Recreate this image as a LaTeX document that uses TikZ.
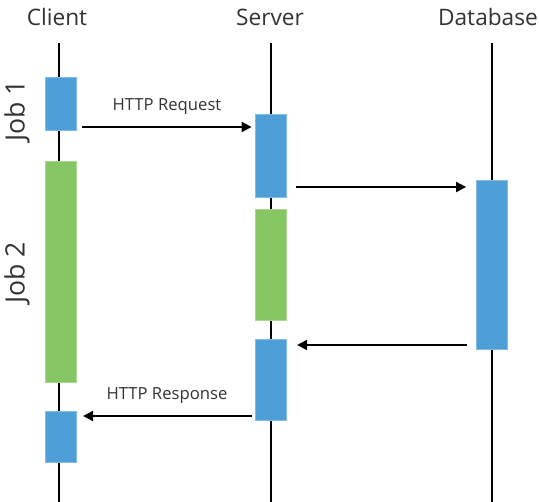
\documentclass[tikz,border=0pt]{standalone}
\usepackage{fontspec}
\setmainfont{Open Sans}
\usetikzlibrary{arrows.meta}

\definecolor{jobblue}{RGB}{78,158,216}
\definecolor{jobgreen}{RGB}{134,198,99}
\definecolor{txtgray}{RGB}{51,51,51}

\begin{document}
\begin{tikzpicture}[x=0.75pt,y=0.75pt,yscale=-1,xscale=1,
  lifeline/.style={line width=1.5pt,black},
  jobbar/.style={rectangle,inner sep=0pt,minimum width=23.25pt,minimum height=#1*0.75pt,line width=0.6pt},
  bluebar/.style={jobbar=#1,fill=jobblue,draw=jobblue!70!white},
  greenbar/.style={jobbar=#1,fill=jobgreen,draw=jobgreen!70!white},
  msg/.style={line width=1.5pt,-{Triangle[length=7.5pt,width=7.5pt]}},
  title/.style={text=txtgray,font=\fontsize{17}{20}\selectfont},
  msglabel/.style={text=txtgray,font=\fontsize{12.5}{15}\selectfont}]
%set diagram left start at 0, and has height of 502
\useasboundingbox (0,0) rectangle (539,502);

% Text Node
\node [title] (client) at (57,17) {Client};
% Text Node
\node [title] (server) at (270,17) {Server};
% Text Node
\node [title] (db) at (488,17) {Database};

%Straight Lines
\draw [lifeline] (59,43) -- (59,502);
\draw [lifeline] (271,43) -- (271,502);
\draw [lifeline] (492,43) -- (492,502);

%Shape: Rectangle
\node [bluebar=53] (c1) at (60.5,103.5) {};
\node [greenbar=221] (c2) at (60.5,271.5) {};
\node [bluebar=51] (c3) at (60.5,436.5) {};
\node [bluebar=83] (s1) at (270.5,155.5) {};
\node [greenbar=111] (s2) at (270.5,264.5) {};
\node [bluebar=81] (s3) at (270.5,379.5) {};
\node [bluebar=169] (d1) at (492,264.5) {};

%Straight Lines
\draw [msg,shorten <=4.5pt,shorten >=2.25pt] (c1.east |- 0,127) -- (s1.west |- 0,127);
\draw [msg,shorten <=7.5pt,shorten >=7.5pt] (s1.east |- 0,187) -- (d1.west |- 0,187);
\draw [msg,shorten <=7pt,shorten >=8pt] (d1.west |- 0,345) -- (s3.east |- 0,345);
\draw [msg,shorten <=2.25pt,shorten >=5pt] (s3.west |- 0,416) -- (c3.east |- 0,416);

% Text Node
\node [msglabel] (req) at (167,107) {HTTP Request};
% Text Node
\node [msglabel] (resp) at (167,396) {HTTP Response};
% Text Node
\node [title,font=\fontsize{20}{24}\selectfont,rotate=90] (job1) at (17,111) {Job 1};
% Text Node
\node [title,font=\fontsize{20}{24}\selectfont,rotate=90] (job2) at (17,273) {Job 2};

\end{tikzpicture}
\end{document}
